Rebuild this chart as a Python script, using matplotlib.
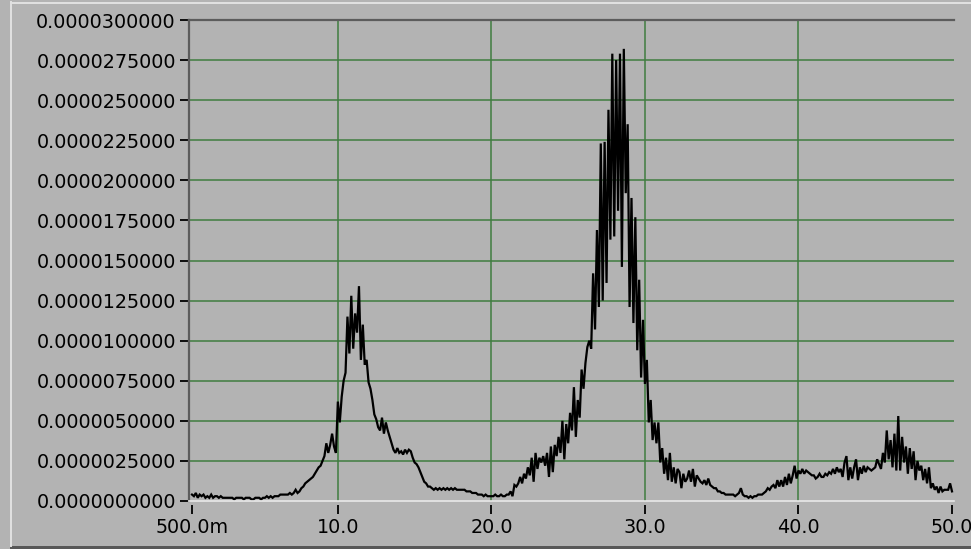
import numpy as np
import matplotlib
matplotlib.use("Agg")
import matplotlib.pyplot as plt
from matplotlib.lines import Line2D
from matplotlib.patches import Rectangle
from matplotlib.ticker import FixedLocator, FixedFormatter

# Spectrum samples: uniform spacing starting at X_START, amplitudes in units of AMP_UNIT
X_START = 0.5
X_STEP = 0.125
AMP_UNIT = 1e-7

# 0.5 .. 7.5 : flat noisy floor
seg_floor = [4, 3, 5, 2, 4, 3, 4, 2, 3, 2, 4, 2, 3, 3, 2, 3, 2, 2,
             2, 2, 2, 2, 1, 2, 2, 2, 2, 1, 2, 2, 2, 1, 1, 2, 2, 2, 1, 2,
             2, 3, 2, 3, 2, 3, 3, 3, 4, 4, 4, 4, 4, 5, 4, 5, 7, 5, 6]
# 7.625 .. 10.5 : rising edge of the first peak
seg_rise1 = [8, 9, 11, 12, 13, 14, 15, 17, 19, 21, 22, 25, 28, 36, 30,
             35, 42, 34, 30, 62, 49, 65, 75, 80]
# 10.625 .. 20.0 : first peak and its decay
seg_peak1 = [115, 92, 128, 95, 117, 105, 134, 88, 110, 85, 88, 74, 70, 63, 54,
             51, 46, 44, 52, 42, 49, 44, 40, 36, 32, 30, 33, 30, 31, 29,
             32, 30, 32, 31, 27, 24, 23, 21, 18, 15, 12, 11, 9, 9,
             8, 7, 8, 7, 8, 7, 8, 7, 8, 7, 8, 7, 8, 7, 7, 7,
             7, 7, 6, 6, 6, 5, 5, 5, 4, 4, 4, 3, 4, 3, 3, 3]
# 20.125 .. 26.375 : rising edge of the main peak
seg_rise2 = [3, 4, 3, 3, 4, 3, 3, 4, 4, 6,
             3, 10, 9, 11, 15, 11, 17, 14, 21, 16,
             27, 12, 30, 20, 27, 24, 28, 22, 30, 15,
             34, 18, 35, 28, 40, 30, 50, 26, 48, 36,
             55, 44, 71, 40, 63, 52, 82, 70, 86, 96,
             100]
# 26.5 .. 32.125 : main peak
seg_peak2 = [95, 142, 107, 169, 121, 223, 125, 224, 136, 244,
             163, 279, 165, 275, 181, 279, 146, 282, 192, 235,
             121, 189, 111, 177, 94, 138, 77, 113, 73, 88,
             49, 63, 38, 49, 36, 49, 24, 33, 17, 27,
             13, 30, 12, 21, 11, 20]
# 32.25 .. 50.0 : tail, broad hump and last peak
seg_tail = [18, 8, 17, 12, 14, 19, 12, 20, 9, 16,
            14, 12, 11, 13, 10, 14, 10, 9, 8, 8,
            6, 6, 5, 5, 4, 4, 4, 4, 4, 3,
            4, 5, 8, 4, 3, 3, 2, 3, 2, 3,
            3, 4, 4, 4, 5, 6, 8, 7, 9, 10,
            8, 13, 9, 13, 9, 15, 10, 17, 11, 16,
            22, 14, 19, 17, 20, 17, 19, 18, 17, 16,
            16, 14, 15, 17, 15, 15, 17, 16, 18, 17,
            20, 17, 21, 18, 20, 15, 24, 28, 13, 21,
            14, 21, 26, 13, 21, 17, 22, 18, 21, 20,
            19, 20, 21, 26, 23, 20, 30, 24, 44, 26,
            38, 21, 42, 19, 53, 19, 40, 24, 34, 17,
            33, 20, 31, 13, 25, 19, 22, 13, 20, 11,
            21, 8, 11, 7, 9, 5, 9, 6, 7, 7,
            7, 11, 6]

x_ticks = [0.5, 10.0, 20.0, 30.0, 40.0, 50.0]
x_labels = ["500.0m", "10.0", "20.0", "30.0", "40.0", "50.0"]
y_ticks = [0.0, 2.5e-6, 5.0e-6, 7.5e-6, 1.0e-5, 1.25e-5, 1.5e-5,
           1.75e-5, 2.0e-5, 2.25e-5, 2.5e-5, 2.75e-5, 3.0e-5]

amp = np.array(seg_floor + seg_rise1 + seg_peak1 + seg_rise2 + seg_peak2 + seg_tail,
               dtype=float) * AMP_UNIT
freq = X_START + X_STEP * np.arange(len(amp))

W, H = 971, 549
BG = "#b3b3b3"
GRID = "#3f7d3f"
FRAME = "#5c5c5c"

fig = plt.figure(figsize=(W / 100, H / 100), dpi=100, facecolor=BG)
ax = fig.add_axes([189 / W, (H - 501) / H, (954 - 189) / W, (501 - 20) / H])
ax.set_facecolor(BG)

px_per_unit = (952 - 192) / (x_ticks[-1] - x_ticks[0])
ax.set_xlim(x_ticks[0] - 3 / px_per_unit, x_ticks[-1] + 2 / px_per_unit)
ax.set_ylim(y_ticks[0], y_ticks[-1])

# grid: interior ticks only
for xv in x_ticks[1:-1]:
    ax.axvline(xv, color=GRID, lw=1.1, zorder=1)
for yv in y_ticks[1:-1]:
    ax.axhline(yv, color=GRID, lw=1.1, zorder=1)

ax.plot(freq, amp, color="black", lw=1.6, zorder=3, solid_joinstyle="miter")

# frame
ax.spines["right"].set_visible(False)
for side in ("left", "top"):
    ax.spines[side].set_color(FRAME)
    ax.spines[side].set_linewidth(1.6)
ax.spines["bottom"].set_position(("outward", 3))
ax.spines["bottom"].set_visible(False)
ax.axhline(0, color="#e8e8e8", lw=1.2, zorder=4, clip_on=False)

ax.xaxis.set_major_locator(FixedLocator(x_ticks))
ax.xaxis.set_major_formatter(FixedFormatter(x_labels))
ax.yaxis.set_major_locator(FixedLocator(y_ticks))
ax.yaxis.set_major_formatter(FixedFormatter(["%.10f" % v for v in y_ticks]))

ax.tick_params(axis="x", direction="out", length=6.5, width=1.3, color="black",
               pad=3, labelsize=13.8, labelcolor="black")
ax.tick_params(axis="y", direction="out", length=6.5, width=1.3, color="black",
               pad=3, labelsize=13.8, labelcolor="black")

# raised panel border
fig.add_artist(Line2D([11 / W, 11 / W], [3 / H, 1 - 2 / H], transform=fig.transFigure,
                      color="#e2e2e2", lw=1.4))
fig.add_artist(Line2D([11 / W, 1], [1 - 2.5 / H, 1 - 2.5 / H], transform=fig.transFigure,
                      color="#e2e2e2", lw=1.4))
fig.add_artist(Rectangle((10 / W, 0), 1, 3 / H, transform=fig.transFigure,
                         color="#585858", lw=0))

fig.savefig("out.png", dpi=100, facecolor=BG)
